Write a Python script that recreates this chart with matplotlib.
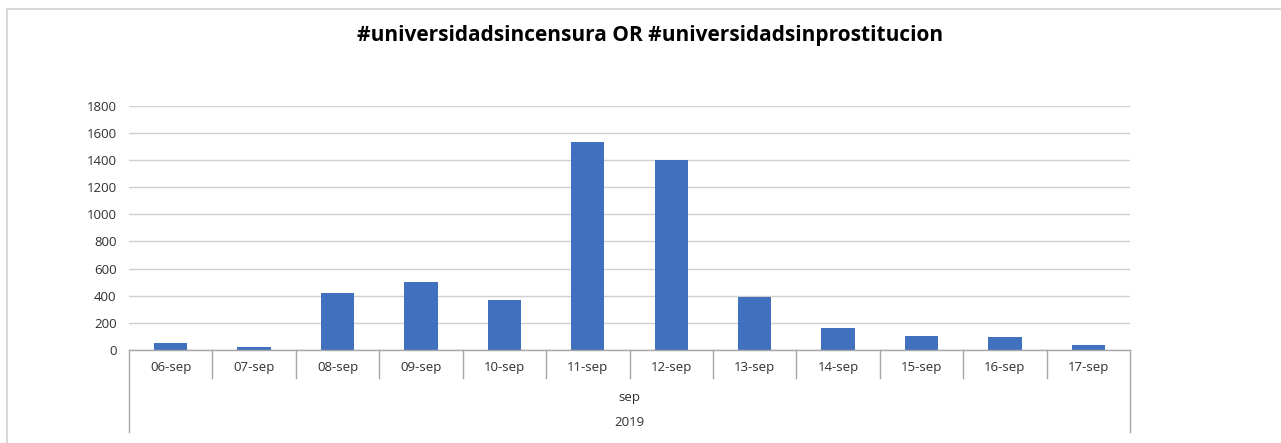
import matplotlib
matplotlib.use("Agg")
import matplotlib.pyplot as plt
from matplotlib.lines import Line2D
import matplotlib.transforms as mtransforms

categories = ["06-sep", "07-sep", "08-sep", "09-sep", "10-sep", "11-sep",
              "12-sep", "13-sep", "14-sep", "15-sep", "16-sep", "17-sep"]
values = [48, 22, 417, 500, 372, 1535, 1400, 388, 165, 106, 96, 37]
month_label = "sep"
year_label = "2019"
title = "#universidadsincensura OR #universidadsinprostitucion"
yticks = [0, 200, 400, 600, 800, 1000, 1200, 1400, 1600, 1800]

plt.rcParams['font.family'] = ['Open Sans', 'DejaVu Sans']

W, H = 1281, 443
fig = plt.figure(figsize=(W / 100, H / 100), dpi=100)
fig.patch.set_facecolor("white")

# chart border (left and top visible)
fig.add_artist(Line2D([7 / W, 7 / W], [0, 1 - 9 / H], transform=fig.transFigure,
                      color="#d9d9d9", lw=1.5))
fig.add_artist(Line2D([7 / W, 1], [1 - 9 / H, 1 - 9 / H], transform=fig.transFigure,
                      color="#d9d9d9", lw=1.5))

left, right = 129 / W, 1130 / W
bottom, top = 1 - 350 / H, 1 - 105.7 / H
ax = fig.add_axes([left, bottom, right - left, top - bottom])

x = list(range(len(categories)))
ax.bar(x, values, width=0.4, color="#4170be", zorder=3)
ax.set_xlim(-0.5, len(categories) - 0.5)
ax.set_ylim(0, 1800)
ax.set_yticks(yticks)
ax.set_yticklabels([str(v) for v in yticks], fontsize=9.5, color="#303030")
ax.tick_params(axis="y", length=0, pad=9)
ax.set_xticks([])
ax.yaxis.grid(True, color="#d0d0d0", lw=1, zorder=0)
for s in ["top", "right", "left"]:
    ax.spines[s].set_visible(False)
ax.spines["bottom"].set_color("#a6a6a6")
ax.spines["bottom"].set_linewidth(1)
ax.spines["bottom"].set_zorder(4)

axh_px = (top - bottom) * H
trans = mtransforms.blended_transform_factory(ax.transData, ax.transAxes)

# category separators
n = len(categories)
for i in range(n + 1):
    xb = i - 0.5
    depth = 82 if i in (0, n) else 28
    ax.add_line(Line2D([xb, xb], [0, -depth / axh_px], transform=trans,
                       color="#a6a6a6", lw=1, clip_on=False))

for i, c in enumerate(categories):
    ax.text(i, -18 / axh_px, c, transform=trans, ha="center", va="center",
            fontsize=9.5, color="#303030", clip_on=False)

mid = (n - 1) / 2
ax.text(mid, -48 / axh_px, month_label, transform=trans, ha="center", va="center",
        fontsize=9.5, color="#303030", clip_on=False)
ax.text(mid, -73 / axh_px, year_label, transform=trans, ha="center", va="center",
        fontsize=9.5, color="#303030", clip_on=False)

fig.text(650 / W, 1 - 35 / H, title, ha="center", va="center",
         fontsize=15, fontweight="bold", color="black")

fig.savefig("out.png", dpi=100, facecolor="white")
